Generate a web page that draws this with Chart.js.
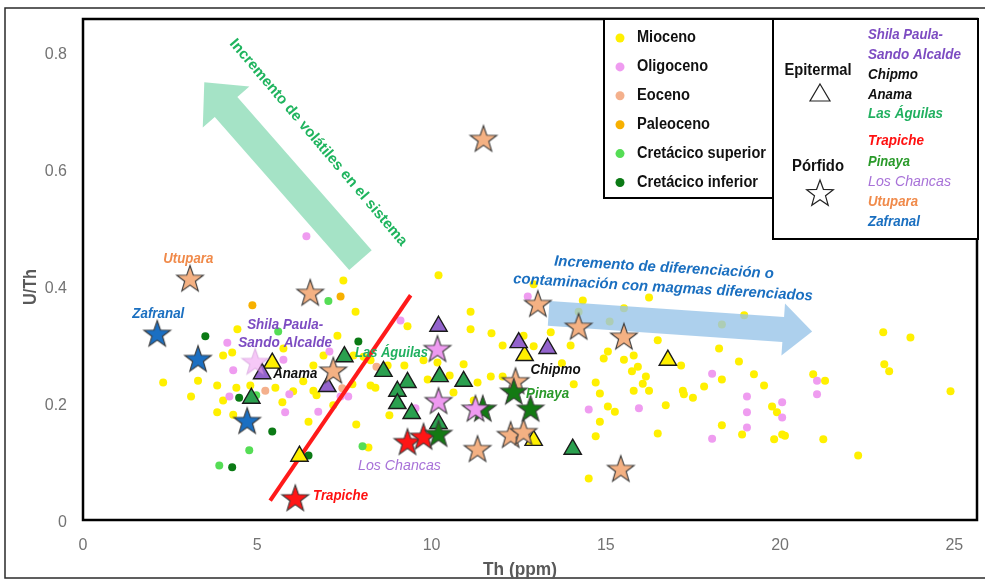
<!DOCTYPE html>
<html>
<head>
<meta charset="utf-8">
<script src="https://cdn.jsdelivr.net/npm/chart.js@4.4.0/dist/chart.umd.min.js"></script>
<style>
html, body { margin: 0; padding: 0; background: #fff; overflow: hidden; }
canvas { display: block; }
</style>
</head>
<body>
<canvas id="myScatterChart" width="985" height="581"></canvas>
<script>
// tick labels
var xTicks = [0, 5, 10, 15, 20, 25];
var yTicks = [0, 0.2, 0.4, 0.6, 0.8];

// dots by age  [Th, U/Th]
var mioceno = [
    [7.47,0.409],[7.82,0.356],[4.43,0.326],[7.30,0.315],[4.02,0.281],[4.28,0.286],[6.90,0.281],[8.05,0.279],
    [2.30,0.235],[3.30,0.238],[6.61,0.264],[3.10,0.211],[3.85,0.230],[4.40,0.226],[4.02,0.204],[5.52,0.226],
    [6.03,0.220],[6.32,0.237],[6.61,0.221],[6.70,0.213],[7.18,0.196],[7.73,0.232],[3.85,0.184],[4.31,0.180],
    [5.72,0.201],[6.47,0.168],[7.84,0.163],[8.19,0.124],[5.75,0.293],[4.80,0.230],[10.20,0.418],[9.31,0.331],
    [11.12,0.356],[11.12,0.326],[7.76,0.281],[8.25,0.273],[8.74,0.264],[9.22,0.264],[9.89,0.240],[10.17,0.269],
    [9.77,0.273],[10.52,0.247],[10.92,0.266],[11.32,0.235],[10.63,0.218],[8.25,0.230],[8.39,0.226],[8.79,0.179],
    [11.72,0.319],[12.04,0.298],[12.93,0.403],[12.64,0.315],[12.93,0.297],[11.70,0.245],[13.42,0.321],[13.99,0.298],
    [14.34,0.375],[14.22,0.356],[15.52,0.362],[15.11,0.339],[16.24,0.380],[12.04,0.245],[13.74,0.268],[14.08,0.232],
    [14.71,0.235],[15.06,0.288],[14.94,0.276],[15.52,0.274],[15.80,0.281],[15.92,0.262],[15.75,0.254],[16.15,0.245],
    [16.06,0.233],[15.80,0.221],[16.24,0.221],[14.83,0.216],[15.06,0.194],[15.26,0.185],[14.83,0.168],[14.71,0.143],
    [16.49,0.148],[14.51,0.071],[16.49,0.307],[11.21,0.204],[18.33,0.334],[18.97,0.350],[18.25,0.293],[18.82,0.271],
    [17.16,0.264],[18.33,0.240],[19.25,0.249],[19.54,0.230],[17.82,0.228],[17.21,0.221],[17.24,0.215],[17.50,0.209],
    [16.72,0.196],[19.77,0.194],[19.91,0.184],[18.33,0.162],[18.91,0.146],[19.83,0.138],[20.06,0.146],[20.14,0.144],
    [20.95,0.249],[21.29,0.238],[21.24,0.138],[22.96,0.321],[23.74,0.312],[22.99,0.266],[23.13,0.254],[24.89,0.220],
    [22.24,0.110]
];
var oligoceno = [
    [6.41,0.485],[4.14,0.303],[5.75,0.274],[4.31,0.256],[4.20,0.211],[5.80,0.184],[6.75,0.185],[7.39,0.211],
    [7.61,0.211],[7.07,0.288],[9.11,0.341],[9.54,0.191],[12.76,0.382],[14.51,0.189],[15.95,0.191],[18.05,0.250],
    [19.05,0.211],[19.05,0.184],[19.05,0.158],[20.06,0.201],[20.06,0.175],[18.05,0.139],[21.06,0.238],[21.06,0.215],
    [5.92,0.215]
];
var eoceno = [[5.23,0.221],[7.44,0.225],[8.42,0.262]];
var paleoceno = [[4.86,0.367],[7.39,0.382]];
var cretacicoSup = [[5.60,0.322],[7.04,0.374],[4.97,0.213],[4.77,0.119],[3.91,0.093],[8.02,0.126]];
var cretacicoInf = [[3.51,0.314],[7.90,0.305],[4.48,0.209],[5.43,0.151],[4.28,0.090],[6.47,0.110]];

// porfido stars
var starsSalmon = [
    [11.49,0.652],[3.07,0.413],[6.52,0.389],[13.05,0.370],[14.22,0.331],[15.52,0.314],
    [7.18,0.256],[12.41,0.238],[12.27,0.146],[12.64,0.151],[11.32,0.122],[15.43,0.088]
];
var starsBlue = [[2.13,0.319],[3.30,0.276],[4.71,0.170]];
var starsRed = [[6.09,0.038],[9.31,0.134],[9.77,0.143]];
var starsGreen = [[10.20,0.148],[12.36,0.220],[12.84,0.191],[11.47,0.191]];
var starsViolet = [[4.94,0.271],[10.17,0.293],[10.20,0.204],[11.26,0.191]];

// epitermal triangles
var triPurple = [[5.14,0.250],[7.01,0.228],[10.20,0.331],[12.50,0.303],[13.33,0.293]];
var triYellow = [[5.43,0.268],[6.21,0.109],[12.67,0.281],[12.93,0.136],[16.78,0.273]];
var triGreen = [
    [4.83,0.208],[7.50,0.279],[8.62,0.254],[9.31,0.235],[9.02,0.220],[9.02,0.199],
    [9.43,0.182],[10.23,0.245],[10.92,0.237],[10.20,0.165],[14.05,0.121]
];

// annotations (data units)
var redLine = [[5.37,0.033],[9.40,0.384]];
var greenArrow = [[7.96,0.444],[3.48,0.748]];
var blueArrow = [[13.36,0.353],[20.92,0.322]];
var siteLabels = [
    ['Utupara', 3.02, 0.447, '#f08a4a', 50],
    ['Zafranal', 2.16, 0.353, '#1a6fc0', 52],
    ['Shila Paula-', 5.80, 0.334, '#7d4cc2', 76],
    ['Sando Alcalde', 5.80, 0.303, '#7d4cc2', 94],
    ['Anama', 6.09, 0.250, '#111111', 44],
    ['Las Águilas', 8.85, 0.285, '#21b060', 73],
    ['Chipmo', 13.56, 0.257, '#111111', 50],
    ['Pinaya', 13.33, 0.216, '#2a9a2a', 43],
    ['Los Chancas', 9.08, 0.093, '#a872d8', 83],
    ['Trapiche', 7.39, 0.042, '#ff1010', 55]
];

function pts(arr) {
    return arr.map(function(p) { return {x: p[0], y: p[1]}; });
}

function starPath(g, cx, cy, ro, ri) {
    g.beginPath();
    for (let i = 0; i < 10; i++) {
        let r = i % 2 === 0 ? ro : ri;
        let a = -Math.PI / 2 + i * Math.PI / 5;
        let px = cx + r * Math.cos(a), py = cy + r * Math.sin(a);
        if (i === 0) g.moveTo(px, py); else g.lineTo(px, py);
    }
    g.closePath();
}

function makeStar(fill, stroke) {
    const c = document.createElement('canvas');
    c.width = 32; c.height = 32;
    const g = c.getContext('2d');
    starPath(g, 16, 17.3, 14, 5.6);
    g.fillStyle = fill;
    g.fill();
    g.lineWidth = 1.1;
    g.strokeStyle = stroke || '#3a3a3a';
    g.stroke();
    return c;
}

function fitText(ctx, text, x, y, w, font, color, align) {
    ctx.save();
    ctx.font = font;
    ctx.fillStyle = color;
    ctx.textBaseline = 'middle';
    ctx.textAlign = align || 'left';
    const m = ctx.measureText(text).width;
    ctx.translate(x, y);
    ctx.scale(w / m, 1);
    ctx.fillText(text, 0, 0);
    ctx.restore();
}

function blockArrow(ctx, t, p, sw, hw, hl, color) {
    const dx = p.x - t.x, dy = p.y - t.y;
    const len = Math.sqrt(dx * dx + dy * dy);
    const ux = dx / len, uy = dy / len, nx = -uy, ny = ux;
    const bx = p.x - ux * hl, by = p.y - uy * hl;
    ctx.save();
    ctx.beginPath();
    ctx.moveTo(t.x + nx * sw / 2, t.y + ny * sw / 2);
    ctx.lineTo(bx + nx * sw / 2, by + ny * sw / 2);
    ctx.lineTo(bx + nx * hw / 2, by + ny * hw / 2);
    ctx.lineTo(p.x, p.y);
    ctx.lineTo(bx - nx * hw / 2, by - ny * hw / 2);
    ctx.lineTo(bx - nx * sw / 2, by - ny * sw / 2);
    ctx.lineTo(t.x - nx * sw / 2, t.y - ny * sw / 2);
    ctx.closePath();
    ctx.fillStyle = color;
    ctx.fill();
    ctx.restore();
}

function px(chart, x, y) {
    return {x: chart.scales.x.getPixelForValue(x), y: chart.scales.y.getPixelForValue(y)};
}

const LAST_DOT_INDEX = 8;

const decorPlugin = {
    id: 'decor',
    beforeDraw(chart) {
        const ctx = chart.ctx;
        ctx.save();
        ctx.fillStyle = '#fff';
        ctx.fillRect(0, 0, chart.width, chart.height);
        ctx.strokeStyle = '#2a2a2a';
        ctx.lineWidth = 1.5;
        ctx.strokeRect(5, 8, 1000, 570);
        ctx.restore();
    },
    afterDatasetDraw(chart, args) {
        if (args.index !== LAST_DOT_INDEX) return;
        const ctx = chart.ctx;
        // green arrow
        blockArrow(ctx, px(chart, greenArrow[0][0], greenArrow[0][1]), px(chart, greenArrow[1][0], greenArrow[1][1]),
            30, 62, 33, 'rgba(160,226,195,0.95)');
        // blue arrow
        blockArrow(ctx, px(chart, blueArrow[0][0], blueArrow[0][1]), px(chart, blueArrow[1][0], blueArrow[1][1]),
            25, 52, 29, 'rgba(150,195,232,0.78)');
        // red line
        const a = px(chart, redLine[0][0], redLine[0][1]), b = px(chart, redLine[1][0], redLine[1][1]);
        ctx.save();
        ctx.strokeStyle = '#ff1a1a';
        ctx.lineWidth = 4;
        ctx.beginPath();
        ctx.moveTo(a.x, a.y);
        ctx.lineTo(b.x, b.y);
        ctx.stroke();
        ctx.restore();
    },
    afterDraw(chart) {
        const ctx = chart.ctx;
        const area = chart.chartArea;
        // plot frame
        ctx.save();
        ctx.strokeStyle = '#000';
        ctx.lineWidth = 2.5;
        ctx.strokeRect(area.left, area.top, area.right - area.left, area.bottom - area.top);
        ctx.restore();

        // rotated green text
        let c = px(chart, 6.75, 0.645);
        ctx.save();
        ctx.translate(c.x, c.y);
        ctx.rotate(49.7 * Math.PI / 180);
        fitText(ctx, 'Incremento de volátiles en el sistema', 0, 0, 266, 'bold 15px "Liberation Sans", Arial, sans-serif', '#1fb45e', 'center');
        ctx.restore();

        // blue text
        ctx.save();
        c = px(chart, 16.67, 0.431);
        ctx.translate(c.x, c.y);
        ctx.rotate(3.3 * Math.PI / 180);
        fitText(ctx, 'Incremento de diferenciación o', 0, 0, 220, 'italic bold 15px "Liberation Sans", Arial, sans-serif', '#1a6fc0', 'center');
        ctx.restore();
        ctx.save();
        c = px(chart, 16.64, 0.397);
        ctx.translate(c.x, c.y);
        ctx.rotate(3.3 * Math.PI / 180);
        fitText(ctx, 'contaminación con magmas diferenciados', 0, 0, 300, 'italic bold 15px "Liberation Sans", Arial, sans-serif', '#1a6fc0', 'center');
        ctx.restore();

        // site labels
        siteLabels.forEach(function(l) {
            const q = px(chart, l[1], l[2]);
            const f = l[0] === 'Los Chancas' ? 'italic 15px "Liberation Sans", Arial, sans-serif'
                                            : 'italic bold 15px "Liberation Sans", Arial, sans-serif';
            fitText(ctx, l[0], q.x, q.y, l[4], f, l[3], 'center');
        });

        // axis titles
        fitText(ctx, 'Th (ppm)', 520, 570, 74, 'bold 18px "Liberation Sans", Arial, sans-serif', '#595959', 'center');
        ctx.save();
        ctx.translate(31, 287);
        ctx.rotate(-Math.PI / 2);
        fitText(ctx, 'U/Th', 0, 0, 36, 'bold 18px "Liberation Sans", Arial, sans-serif', '#595959', 'center');
        ctx.restore();

        // legend boxes
        ctx.save();
        ctx.fillStyle = '#fff';
        ctx.strokeStyle = '#000';
        ctx.lineWidth = 2;
        ctx.fillRect(604, 19, 169, 179);
        ctx.strokeRect(604, 19, 169, 179);
        ctx.fillRect(773, 19, 205, 220);
        ctx.strokeRect(773, 19, 205, 220);
        ctx.restore();
        const ageRows = [
            ['Mioceno', '#fff000', 59], ['Oligoceno', '#ef9cf0', 71], ['Eoceno', '#f4b08c', 53],
            ['Paleoceno', '#f7b000', 73], ['Cretácico superior', '#55dd55', 129], ['Cretácico inferior', '#0b7a15', 121]
        ];
        ageRows.forEach(function(r, i) {
            const yy = 38 + i * 28.9;
            ctx.beginPath();
            ctx.arc(620, yy, 4.5, 0, Math.PI * 2);
            ctx.fillStyle = r[1];
            ctx.fill();
            fitText(ctx, r[0], 637, yy, r[2], 'bold 16px "Liberation Sans", Arial, sans-serif', '#111', 'left');
        });

        fitText(ctx, 'Epitermal', 818, 71, 67, 'bold 16px "Liberation Sans", Arial, sans-serif', '#111', 'center');
        fitText(ctx, 'Pórfido', 818, 167, 52, 'bold 16px "Liberation Sans", Arial, sans-serif', '#111', 'center');
        ctx.save();
        ctx.strokeStyle = '#222';
        ctx.lineWidth = 1.2;
        ctx.beginPath();
        ctx.moveTo(820, 84);
        ctx.lineTo(830, 101);
        ctx.lineTo(810, 101);
        ctx.closePath();
        ctx.stroke();
        starPath(ctx, 820, 194, 14, 5.8);
        ctx.stroke();
        ctx.restore();
        const siteRows = [
            ['Shila Paula-', '#7d4cc2', 35, 75], ['Sando Alcalde', '#7d4cc2', 55, 93], ['Chipmo', '#111', 75, 50],
            ['Anama', '#111', 95, 44], ['Las Águilas', '#21b060', 114, 75], ['Trapiche', '#ff1010', 141, 56],
            ['Pinaya', '#2a9a2a', 162, 42], ['Los Chancas', '#a872d8', 182, 83], ['Utupara', '#f08a4a', 202, 50],
            ['Zafranal', '#1a6fc0', 222, 52]
        ];
        siteRows.forEach(function(r) {
            const f = r[0] === 'Los Chancas' ? 'italic 15px "Liberation Sans", Arial, sans-serif'
                                            : 'italic bold 15px "Liberation Sans", Arial, sans-serif';
            fitText(ctx, r[0], 868, r[2], r[3], f, r[1], 'left');
        });
    }
};

function starSet(label, data, style) {
    return {label: label, data: pts(data), pointStyle: style, pointRadius: 13, pointHoverRadius: 13};
}
function triSet(label, data, fill) {
    return {label: label, data: pts(data), pointStyle: 'triangle', pointRadius: 10, pointHoverRadius: 10,
        backgroundColor: fill, borderColor: '#1a1a1a', borderWidth: 1.4};
}
function dotSet(label, data, fill) {
    return {label: label, data: pts(data), pointStyle: 'circle', pointRadius: 4, pointHoverRadius: 4,
        backgroundColor: fill, borderWidth: 0};
}
function noPad(s) {
    s.paddingTop = 0; s.paddingBottom = 0; s.paddingLeft = 0; s.paddingRight = 0;
}

function populateScatterChart(chartId) {
    const ctx = document.getElementById(chartId).getContext('2d');
    const violet = makeStar('#ee9af0');
    const violetFaded = makeStar('rgba(238,154,240,0.55)', 'rgba(200,140,210,0.5)');
    const datasets = [
        starSet('Los Chancas', starsViolet, function(c) { return c.dataIndex === 0 ? violetFaded : violet; }),
        starSet('Pinaya', starsGreen, makeStar('#137a13')),
        starSet('Trapiche', starsRed, makeStar('#ff1515')),
        starSet('Utupara', starsSalmon, makeStar('#f4b183')),
        starSet('Zafranal', starsBlue, makeStar('#1b6fc2')),
        triSet('Shila Paula-Sando Alcalde', triPurple, '#9363cc'),
        triSet('Chipmo / Anama', triYellow, '#fff000'),
        triSet('Las Águilas', triGreen, '#2ba04f'),
        dotSet('Cretácico inferior', cretacicoInf, '#0b7a15'),
        dotSet('Cretácico superior', cretacicoSup, '#55dd55'),
        dotSet('Paleoceno', paleoceno, '#f7b000'),
        dotSet('Eoceno', eoceno, '#f4b08c'),
        dotSet('Oligoceno', oligoceno, '#ef9cf0'),
        dotSet('Mioceno', mioceno, '#fff000')
    ];
    var myChart = new Chart(ctx, {
        type: 'scatter',
        data: {datasets: datasets},
        options: {
            responsive: false,
            animation: false,
            devicePixelRatio: 1,
            layout: {autoPadding: false, padding: {top: 19, right: 8, left: 0, bottom: 0}},
            plugins: {legend: {display: false}, tooltip: {enabled: false}},
            scales: {
                x: {
                    type: 'linear', min: 0, max: 25.65,
                    grid: {display: false, drawTicks: false},
                    border: {display: false},
                    afterBuildTicks: function(s) { s.ticks = xTicks.map(function(v) { return {value: v}; }); },
                    afterFit: function(s) { s.height = 61; noPad(s); },
                    ticks: {
                        padding: 16, color: '#737373',
                        font: {family: '"Liberation Sans", Arial, sans-serif', size: 16},
                        callback: function(v) { return String(v); }
                    }
                },
                y: {
                    type: 'linear', min: 0, max: 0.856,
                    grid: {display: false, drawTicks: false},
                    border: {display: false},
                    afterBuildTicks: function(s) { s.ticks = yTicks.map(function(v) { return {value: v}; }); },
                    afterFit: function(s) { s.width = 83; noPad(s); },
                    ticks: {
                        padding: 16, color: '#737373', labelOffset: 3,
                        font: {family: '"Liberation Sans", Arial, sans-serif', size: 16},
                        callback: function(v) { return v === 0 ? '0' : v.toFixed(1); }
                    }
                }
            }
        },
        plugins: [decorPlugin]
    });
}

populateScatterChart('myScatterChart');
</script>
</body>
</html>
